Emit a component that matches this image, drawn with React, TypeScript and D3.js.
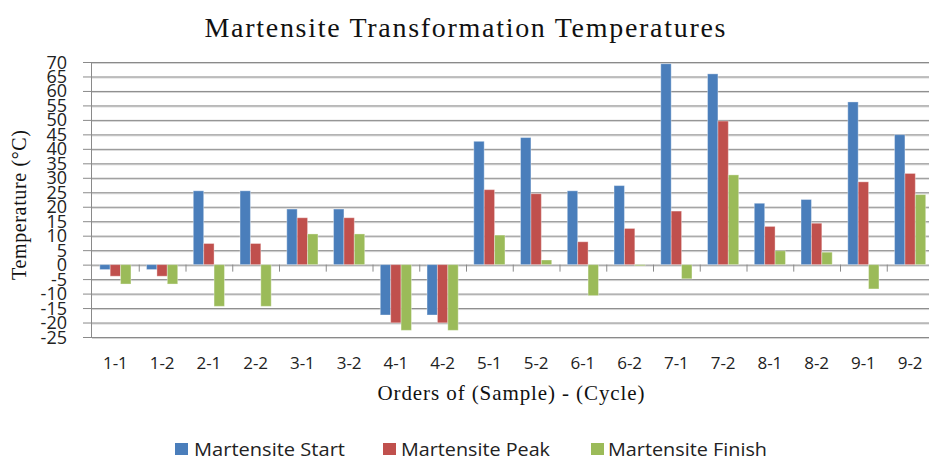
import React from "react";
import * as d3 from "d3";

const categories = ["1-1","1-2","2-1","2-2","3-1","3-2","4-1","4-2","5-1","5-2","6-1","6-2","7-1","7-2","8-1","8-2","9-1","9-2"];
const seriesNames = ["Martensite Start", "Martensite Peak", "Martensite Finish"];
const startValues = [-1.7,-1.7,25.5,25.5,19.2,19.2,-17.4,-17.4,42.6,43.9,25.5,27.3,69.4,65.9,21.2,22.5,56.2,44.9];
const peakValues = [-4,-4,7.3,7.3,16.2,16.2,-20.1,-20.1,25.9,24.5,7.9,12.5,18.5,49.6,13.2,14.3,28.6,31.5];
const finishValues = [-6.7,-6.7,-14.4,-14.4,10.6,10.6,-22.7,-22.7,10.2,1.6,-10.7,-0.4,-4.9,31,4.8,4.3,-8.4,24.2];
const yTicks = [-25,-20,-15,-10,-5,0,5,10,15,20,25,30,35,40,45,50,55,60,65,70];
const colors = ["#4A7EBB", "#C0504D", "#9BBB59"];

const W = 929, H = 461;
const plotLeft = 92, step = 46.75, plotTop = 62, plotBottom = 337;
const plotRight = plotLeft + step * categories.length;

export default function App() {
  const x = d3.scaleBand().domain(categories).range([plotLeft, plotRight]).padding(0);
  const bw = step / 4.5;
  const x1 = d3.scaleBand().domain(seriesNames).range([bw * 0.75, step - bw * 0.75]).padding(0);
  const y = d3.scaleLinear().domain([-25, 70]).range([plotBottom, plotTop]);
  const all = [startValues, peakValues, finishValues];
  const y0 = y(0);

  const legendItems = [
    { sx: 175, tx: 194, tl: 151 },
    { sx: 383, tx: 401, tl: 149 },
    { sx: 591, tx: 608, tl: 159 },
  ];

  return (
    <svg width={W} height={H} style={{ position: "absolute", left: 0, top: 0, background: "#fff" }}>
      <rect x={0} y={0} width={W} height={H} fill="#fff" />
      <text x={465} y={37} textAnchor="middle" fontFamily="Liberation Serif" fontSize={28} fill="#111" textLength={521} lengthAdjust="spacing">
        Martensite Transformation Temperatures
      </text>
      {yTicks.map((t) => (
        <g key={"g" + t}>
          <line x1={plotLeft} x2={plotRight} y1={y(t) + 1.5} y2={y(t) + 1.5} stroke="#d4d4d4" strokeWidth={1} />
          <line x1={83} x2={plotRight} y1={y(t) + 0.5} y2={y(t) + 0.5} stroke="#8a8a8a" strokeWidth={1} />
          <text x={67} y={y(t) + 6.5} textAnchor="end" fontFamily="Open Sans" fontSize={18} fill="#222">
            {t}
          </text>
        </g>
      ))}
      <line x1={plotLeft - 0.5} x2={plotLeft - 0.5} y1={plotTop} y2={plotBottom + 1} stroke="#8a8a8a" strokeWidth={1} />
      {categories.slice(1).map((c) => (
        <line key={"t" + c} x1={x(c)! + 0.5} x2={x(c)! + 0.5} y1={y0} y2={y0 + 7} stroke="#8a8a8a" strokeWidth={1} />
      ))}
      {all.map((vals, si) =>
        vals.map((v, i) => {
          const bx = x(categories[i])! + x1(seriesNames[si])!;
          const top = Math.min(y(v), y0);
          const h = Math.abs(y(v) - y0);
          return (
            <rect key={si + "-" + i} x={bx} y={top} width={x1.bandwidth()} height={h} fill={colors[si]} stroke="#ffffff" strokeOpacity={0.35} strokeWidth={1} />
          );
        })
      )}
      {categories.map((c) => (
        <text key={"l" + c} x={x(c)! + step / 2} y={369} textAnchor="middle" fontFamily="Open Sans" fontSize={17} fill="#222">
          {c}
        </text>
      ))}
      <text x={511} y={400} textAnchor="middle" fontFamily="Liberation Serif" fontSize={21} fill="#111" textLength={267} lengthAdjust="spacing">
        Orders of (Sample) - (Cycle)
      </text>
      <text transform={`translate(26,205) rotate(-90)`} textAnchor="middle" fontFamily="Liberation Serif" fontSize={20} fill="#111" textLength={150} lengthAdjust="spacing">
        Temperature (°C)
      </text>
      {seriesNames.map((s, i) => (
        <g key={"lg" + s}>
          <rect x={legendItems[i].sx} y={443} width={13} height={12} fill={colors[i]} />
          <text x={legendItems[i].tx} y={456} fontFamily="Open Sans" fontSize={18} fill="#222" textLength={legendItems[i].tl} lengthAdjust="spacingAndGlyphs">
            {s}
          </text>
        </g>
      ))}
    </svg>
  );
}
